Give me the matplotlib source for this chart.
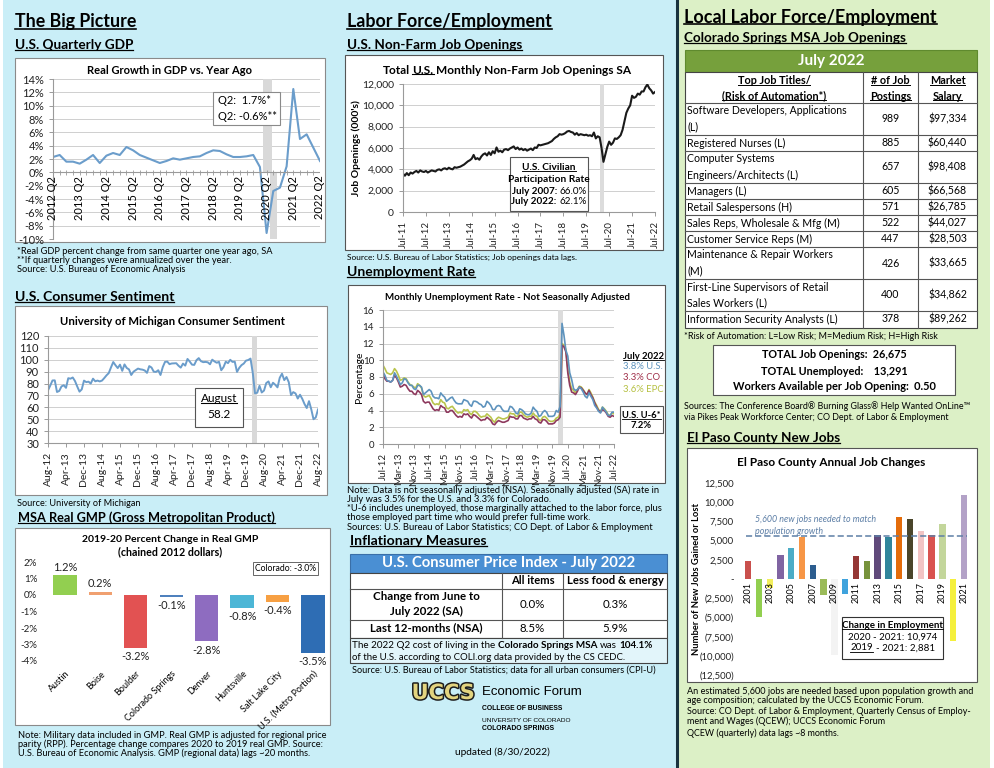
import numpy as np
import matplotlib.pyplot as plt
import matplotlib.patheffects as pe
from matplotlib.patches import Rectangle
from matplotlib.lines import Line2D

plt.rcParams['font.family'] = ['Lato', 'DejaVu Sans']

# ---------------- data ----------------
gdp_ticks = ['2012 Q2', '2013 Q2', '2014 Q2', '2015 Q2', '2016 Q2', '2017 Q2',
             '2018 Q2', '2019 Q2', '2020 Q2', '2021 Q2', '2022 Q2']
gdp = [2.3, 2.6, 1.6,
       1.6, 1.3, 1.9, 2.6,
       1.4, 2.5, 2.9, 2.6,
       3.8, 3.3, 2.6, 2.2,
       1.8, 1.4, 1.7, 2.1,
       1.9, 2.1, 2.3, 2.4,
       2.9, 3.3, 3.2, 2.7,
       2.3, 2.3, 2.4, 2.6,
       0.8, -9.1, -2.8, -2.3,
       0.9, 12.5, 5.0, 5.7,
       3.7, 1.7]

sent_ticks = ['Aug-12', 'Apr-13', 'Dec-13', 'Aug-14', 'Apr-15', 'Dec-15', 'Aug-16', 'Apr-17',
              'Dec-17', 'Aug-18', 'Apr-19', 'Dec-19', 'Aug-20', 'Apr-21', 'Dec-21', 'Aug-22']
sentiment = [74.3, 78.3, 82.6, 82.7, 72.9,
             73.8, 77.6, 78.6, 76.4, 84.5, 84.1, 85.1, 82.1, 77.5, 73.2, 75.1, 82.5,
             81.2, 81.6, 80.0, 84.1, 81.9, 82.5, 81.8, 82.5, 84.6, 86.9, 88.8, 93.6,
             98.1, 95.4, 93.0, 95.9, 90.7, 96.1, 93.1, 91.9, 87.2, 90.0, 91.3, 92.6,
             92.0, 91.7, 91.0, 89.0, 94.7, 93.5, 90.0, 89.8, 91.2, 87.2, 93.8, 98.2,
             98.5, 96.3, 96.9, 97.0, 97.1, 95.0, 93.4, 96.8, 95.1, 100.7, 98.5, 95.9,
             95.7, 99.7, 101.4, 98.8, 98.0, 98.2, 97.9, 96.2, 100.1, 98.6, 97.5, 98.3,
             91.2, 93.8, 98.4, 97.2, 100.0, 98.2, 98.4, 89.8, 93.2, 95.5, 96.8, 99.3,
             99.8, 101.0, 89.1, 71.8, 72.3, 78.1, 72.5, 74.1, 80.4, 81.8, 76.9, 80.7,
             79.0, 76.8, 84.9, 88.3, 82.9, 85.5, 81.2, 70.3, 72.8, 71.7, 67.4, 70.6,
             67.2, 62.8, 59.4, 65.2, 58.4, 50.0, 51.5, 58.2]

gmp_cities = ['Austin', 'Boise', 'Boulder', 'Colorado Springs', 'Denver', 'Huntsville',
              'Salt Lake City', 'U.S. (Metro Portion)']
gmp_change = [1.2, 0.2, -3.2, -0.1, -2.8, -0.8, -0.4, -3.5]
gmp_colors = ['#92cf50', '#f0a070', '#e25252', '#4f81bd', '#8e6cc0', '#4cb6d6', '#f7a043', '#2e6db4']

jobs_ticks = ['Jul-11', 'Jul-12', 'Jul-13', 'Jul-14', 'Jul-15', 'Jul-16', 'Jul-17', 'Jul-18',
              'Jul-19', 'Jul-20', 'Jul-21', 'Jul-22']
job_openings = [3600, 3400, 3650, 3450, 3700, 3600,
                3750, 3850, 3700, 3900, 3800, 3750, 3850, 3700, 3800, 3900, 3850, 3800,
                3950, 4000, 3900, 4050, 4100, 4000, 4150, 4050, 4000, 4200, 4150, 4200,
                4250, 4350, 4450, 4600, 4750, 4850, 5000, 5350, 4950, 5050, 4900, 5200,
                5400, 5500, 5300, 5600, 5350, 5700, 5500, 6050, 5650, 5750, 5600, 5850,
                5900, 5800, 5950, 6050, 6150, 5900, 6050, 5850, 5950, 5800, 5900, 5750,
                5850, 5950, 5800, 6050, 6000, 6300, 6250, 6300, 6350, 6400, 6450, 6550,
                6650, 6850, 7000, 7100, 7300, 7250, 7300, 7400, 7550, 7600, 7500, 7450,
                7250, 7400, 7200, 7300, 7250, 7200, 7250, 7150, 7200, 7100, 7450, 6900,
                7100, 7000, 6000, 4700, 5400, 6100, 6600, 6300, 6500, 6900, 6850, 7000,
                7200, 7700, 8500, 9300, 9700, 10000, 10900, 10700, 10800, 11100, 11000, 11300,
                11300, 11700, 11950, 11600, 11400, 11100, 11250]

unemp_ticks = ['Jul-12', 'Mar-13', 'Nov-13', 'Jul-14', 'Mar-15', 'Nov-15', 'Jul-16', 'Mar-17',
               'Nov-17', 'Jul-18', 'Mar-19', 'Nov-19', 'Jul-20', 'Mar-21', 'Nov-21', 'Jul-22']
unemp_us = [8.6, 8.2, 7.6, 7.5, 7.4, 7.6,
            8.5, 8.1, 7.6, 7.1, 7.3, 7.8, 7.7, 7.3, 7.0, 7.0, 6.6, 6.5,
            7.0, 7.0, 6.8, 5.9, 6.1, 6.3, 6.5, 6.3, 5.7, 5.5, 5.5, 5.4,
            6.1, 5.8, 5.6, 5.1, 5.3, 5.5, 5.6, 5.2, 4.9, 4.8, 4.8, 4.8,
            5.3, 5.2, 5.1, 4.7, 4.5, 5.1, 5.1, 5.0, 4.8, 4.7, 4.4, 4.5,
            5.1, 4.9, 4.6, 4.1, 4.1, 4.5, 4.6, 4.5, 4.1, 3.9, 3.9, 3.9,
            4.5, 4.4, 4.1, 3.7, 3.6, 4.2, 4.1, 3.9, 3.6, 3.5, 3.5, 3.7,
            4.4, 4.1, 3.9, 3.3, 3.4, 3.8, 4.0, 3.8, 3.3, 3.3, 3.3, 3.4,
            4.0, 3.8, 4.5, 14.4, 13.0, 11.2, 10.5, 8.5, 7.7, 6.6, 6.4, 6.5,
            6.8, 6.6, 6.2, 5.7, 5.5, 6.1, 5.7, 5.3, 4.6, 4.3, 3.9, 3.7,
            4.4, 4.1, 3.8, 3.4, 3.4, 3.8, 3.8]
unemp_co = [8.3, 7.8, 7.5, 7.5, 7.4, 7.6,
            8.2, 7.9, 7.4, 6.8, 6.9, 7.1, 7.0, 6.6, 6.3, 6.3, 6.0, 5.9,
            6.4, 6.2, 5.9, 5.1, 4.9, 5.0, 5.0, 4.6, 4.2, 4.0, 4.1, 4.0,
            4.6, 4.4, 4.3, 3.8, 3.8, 4.0, 4.0, 3.7, 3.4, 3.2, 3.3, 3.2,
            3.6, 3.5, 3.6, 3.3, 3.1, 3.5, 3.4, 3.2, 3.0, 2.8, 2.9, 2.9,
            3.2, 3.0, 2.8, 2.4, 2.3, 2.6, 2.8, 2.7, 2.6, 2.6, 2.7, 2.8,
            3.3, 3.2, 3.2, 3.0, 3.0, 3.4, 3.4, 3.1, 3.0, 2.9, 3.0, 3.0,
            3.3, 3.0, 2.9, 2.6, 2.5, 2.9, 2.9, 2.7, 2.4, 2.4, 2.4, 2.5,
            2.8, 2.9, 3.2, 11.8, 11.6, 11.0, 8.5, 7.0, 6.2, 6.1, 5.9, 6.3,
            6.8, 6.7, 6.4, 6.1, 5.9, 6.4, 5.9, 5.5, 4.9, 4.4, 4.0, 3.8,
            4.1, 4.0, 3.7, 3.3, 3.2, 3.4, 3.3]
unemp_epc = [9.4, 9.0, 8.5, 8.4, 8.3, 8.5,
             9.0, 8.7, 8.2, 7.6, 7.7, 7.9, 7.8, 7.4, 7.1, 7.0, 6.8, 6.7,
             7.2, 7.0, 6.7, 5.8, 5.6, 5.7, 5.8, 5.4, 4.9, 4.7, 4.8, 4.7,
             5.3, 5.0, 4.9, 4.3, 4.2, 4.4, 4.5, 4.2, 3.9, 3.7, 3.8, 3.7,
             4.1, 4.0, 4.1, 3.7, 3.5, 3.9, 3.9, 3.7, 3.4, 3.2, 3.3, 3.3,
             3.6, 3.4, 3.2, 2.8, 2.6, 3.0, 3.2, 3.1, 3.0, 3.0, 3.1, 3.2,
             3.7, 3.6, 3.6, 3.3, 3.3, 3.8, 3.8, 3.5, 3.3, 3.2, 3.3, 3.3,
             3.7, 3.4, 3.3, 2.9, 2.8, 3.2, 3.3, 3.1, 2.8, 2.7, 2.7, 2.8,
             3.1, 3.2, 3.6, 12.0, 11.8, 11.3, 9.0, 7.4, 6.6, 6.4, 6.1, 6.5,
             6.9, 6.8, 6.5, 6.1, 5.9, 6.5, 6.1, 5.6, 5.0, 4.6, 4.1, 3.9,
             4.4, 4.2, 3.9, 3.5, 3.4, 3.7, 3.6]

job_titles = ['Software Developers, Applications\n(L)', 'Registered Nurses (L)',
              'Computer Systems\nEngineers/Architects (L)', 'Managers (L)',
              'Retail Salespersons (H)', 'Sales Reps, Wholesale & Mfg (M)',
              'Customer Service Reps (M)', 'Maintenance & Repair Workers\n(M)',
              'First-Line Supervisors of Retail\nSales Workers (L)', 'Information Security Analysts (L)']
job_postings = [989, 885, 657, 605, 571, 522, 447, 426, 400, 378]
job_salary = ['$97,334', '$60,440', '$98,408', '$66,568', '$26,785', '$44,027',
              '$28,503', '$33,665', '$34,862', '$89,262']

ep_years = list(range(2001, 2022))
ep_change = [2300, -4900, -1200, 3100, 4100, 5500, 1800, -2100, -9900, -2000, 3000,
             2400, 5700, 5500, 8100, 7800, 6300, 5700, 7100, -8093, 10974]
ep_colors = ['#c9504d', '#92cf50', '#f2ee5c', '#8064a2', '#4bacc6', '#f79646', '#2c5d8f',
             '#9bbb59', '#f3f3f3', '#3fa3dd', '#953735', '#77933c', '#604a7b', '#31859c',
             '#e46c0a', '#4a452a', '#f2c4c4', '#d9534f', '#c3d69b', '#f5f03c', '#b3a2c7']
ep_yticks = [12500, 10000, 7500, 5000, 2500, 0, -2500, -5000, -7500, -10000, -12500]
ep_ylabels = ['12,500', '10,000', '7,500', '5,000', '2,500', '-', '(2,500)', '(5,000)',
              '(7,500)', '(10,000)', '(12,500)']

# ---------------- helpers ----------------
W, H = 995, 768
fig = plt.figure(figsize=(W / 100, H / 100), dpi=100)
R = fig.canvas.get_renderer()
underlines = []


def rect(x0, y0, x1, y1, fc='white', ec='none', lw=0.8, z=-1):
    fig.add_artist(Rectangle((x0 / W, 1 - y1 / H), (x1 - x0) / W, (y1 - y0) / H,
                             transform=fig.transFigure, facecolor=fc, edgecolor=ec, lw=lw, zorder=z))


def hline(x0, x1, y, color='#555555', lw=0.8, z=2):
    fig.add_artist(Line2D([x0 / W, x1 / W], [1 - y / H] * 2, transform=fig.transFigure,
                          color=color, lw=lw, zorder=z))


def vline(x, y0, y1, color='#555555', lw=0.8, z=2):
    fig.add_artist(Line2D([x / W] * 2, [1 - y0 / H, 1 - y1 / H], transform=fig.transFigure,
                          color=color, lw=lw, zorder=z))


def put(x, y, s, size=8, width=None, ha='left', va='center', weight='normal', color='black',
        ul=False, rotation=0, **kw):
    t = fig.text(x / W, 1 - y / H, s, fontsize=size, ha=ha, va=va, weight=weight,
                 color=color, zorder=4, **kw)
    if width:
        w = t.get_window_extent(R).width
        t.set_fontsize(size * width / w)
    t.set_rotation(rotation)
    if ul:
        underlines.append(t)
    return t


def notes(x, y0, dy, lines, width, size=6.3, **kw):
    # first line sets the size, the rest follow it
    t = put(x, y0, lines[0], size, width=width, **kw)
    fs = t.get_fontsize()
    for k, ln in enumerate(lines[1:], 1):
        put(x, y0 + dy * k, ln, fs, **kw)


def measure(s, size, weight):
    t = fig.text(0, 0, s, fontsize=size, weight=weight)
    w = t.get_window_extent(R).width
    t.remove()
    return w


def runs(x, y, parts, size, ha='left', color='black'):
    placed = []
    cx = 0
    for s, bold, ul in parts:
        wt = 'bold' if bold else 'normal'
        full = measure('x' + s + 'x', size, wt) - measure('xx', size, wt)
        lead = len(s) - len(s.lstrip())
        sp = measure('x x', size, wt) - measure('xx', size, wt)
        t = fig.text(0, 1 - y / H, s.strip(), fontsize=size, weight=wt, va='center',
                     ha='left', color=color, zorder=4)
        placed.append((t, cx + lead * sp, ul))
        cx += full
    start = x if ha == 'left' else x - cx / 2
    for t, off, ul in placed:
        t.set_x((start + off) / W)
        if ul:
            underlines.append(t)


def add_ax(x0, y0, x1, y1):
    ax = fig.add_axes([x0 / W, 1 - y1 / H, (x1 - x0) / W, (y1 - y0) / H])
    ax.set_facecolor('none')
    return ax


def excel(ax, size=7.5):
    for s in ['top', 'right']:
        ax.spines[s].set_visible(False)
    for s in ['left', 'bottom']:
        ax.spines[s].set_color('#9a9a9a')
        ax.spines[s].set_linewidth(0.8)
    ax.grid(axis='y', color='#cfcfcf', lw=0.7)
    ax.set_axisbelow(True)
    ax.tick_params(colors='#9a9a9a', labelcolor='#222222', labelsize=size, length=3, width=0.7)


# ---------------- backgrounds ----------------
rect(0, 0, 995, 768, fc='white', z=-3)
rect(3, 0, 676, 768, fc='#c9eef7', z=-2)
rect(678, 0, 990, 768, fc='#dcf0c6', z=-2)
vline(677, 0, 768, color='#18323e', lw=2.2, z=1)

# ---------------- left column ----------------
put(15, 22, 'The Big Picture', 14, width=122, weight='bold', ul=True)
put(15, 45, 'U.S. Quarterly GDP', 10.5, width=118, weight='bold', ul=True)
rect(15, 58, 325, 242, fc='white', ec='#8a8a8a', lw=0.8)
put(170, 70, 'Real Growth in GDP vs. Year Ago', 9, width=165, weight='bold', ha='center')

ax = add_ax(53, 79, 320, 239)
excel(ax, 8)
x = np.arange(len(gdp))
ax.axvspan(31.4, 32.8, ymin=10 / 24, color='#d9d9d9', lw=0)
ax.axvspan(32.5, 33.6, ymax=10 / 24, color='#d9d9d9', lw=0)
ax.plot(x, gdp, color='#6b9dcb', lw=1.5)
ax.set_xlim(0, len(gdp) - 1)
ax.set_ylim(-10, 14)
ax.set_yticks(range(-10, 15, 2))
ax.set_yticklabels([f'{v}%' for v in range(-10, 15, 2)])
ax.spines['bottom'].set_visible(False)
ax.set_xticks([])
ax.axhline(0, color='#9a9a9a', lw=0.8)
ax.vlines(x, -0.35, 0.35, color='#9a9a9a', lw=0.6)
for i, lab in zip(range(0, len(gdp), 4), gdp_ticks):
    ax.text(i, -0.5, lab, rotation=90, ha='center', va='top', fontsize=8)
rect(213, 92, 280, 125, fc='white', ec='#8a8a8a', z=2)
put(218, 101, 'Q2:  1.7%*', 8)
put(218, 116, 'Q2: -0.6%**', 8)

notes(17, 251, 9.5, ['*Real GDP percent change from same quarter one year ago, SA',
                     '**If quarterly changes were annualized over the year.',
                     'Source: U.S. Bureau of Economic Analysis'], width=256)

put(15, 297, 'U.S. Consumer Sentiment', 10.5, width=160, weight='bold', ul=True)
rect(15, 306, 327, 495, fc='white', ec='#8a8a8a', lw=0.8)
put(172, 322, 'University of Michigan Consumer Sentiment', 9, width=225, weight='bold', ha='center')
ax = add_ax(48, 336, 318, 443)
excel(ax, 8)
xs = np.arange(len(sentiment))
ax.axvspan(90.7, 92.9, color='#d9d9d9', lw=0)
ax.plot(xs, sentiment, color='#6b9dcb', lw=1.4)
ax.set_xlim(0, len(sentiment) - 1)
ax.set_ylim(30, 120)
ax.set_yticks(range(30, 121, 10))
ax.set_xticks(range(0, len(sentiment), 8))
ax.set_xticklabels(sent_ticks, rotation=90, fontsize=7.5)
rect(195, 388, 243, 427, fc='white', ec='#555555', z=2)
put(219, 399, 'August', 8.5, ha='center', ul=True)
put(219, 414, '58.2', 8.5, ha='center')
put(17, 503, 'Source: University of Michigan', 6.3, width=123)

put(18, 518, 'MSA Real GMP (Gross Metropolitan Product)', 10.5, width=257, weight='bold', ul=True)
rect(15, 528, 330, 725, fc='white', ec='#8a8a8a', lw=0.8)
put(170, 539, '2019-20 Percent Change in Real GMP', 8.5, width=176, weight='bold', ha='center')
put(170, 552, '(chained 2012 dollars)', 8.5, width=104, weight='bold', ha='center')
ax = add_ax(40, 562, 329, 661)
xg = np.arange(len(gmp_change))
ax.bar(xg, gmp_change, width=0.66, color=gmp_colors)
ax.set_xlim(-0.7, 7.45)
ax.set_ylim(-4, 2)
for s in ax.spines.values():
    s.set_visible(False)
ax.set_yticks(range(-4, 3))
ax.set_yticklabels([f'{v}%' for v in range(-4, 3)])
ax.tick_params(axis='y', length=0, labelsize=7, labelcolor='#222222', pad=2)
ax.set_xticks(xg)
ax.set_xticklabels(gmp_cities, rotation=45, ha='right', rotation_mode='anchor', fontsize=6.5)
ax.tick_params(axis='x', length=0, pad=6)
for xi, v in zip(xg, gmp_change):
    if v >= 0:
        ax.text(xi, v + 0.15, f'{v:.1f}%', ha='center', va='bottom', fontsize=8, color='#222222')
    else:
        ax.text(xi, v - 0.2, f'{v:.1f}%', ha='center', va='top', fontsize=8, color='#222222')
rect(253, 562, 318, 575, fc='white', ec='#666666', lw=0.7, z=2)
put(285.5, 568.5, 'Colorado: -3.0%', 6.2, ha='center')
notes(18, 735, 9.3, ['Note: Military data included in GMP. Real GMP is adjusted for regional price',
                     'parity (RPP). Percentage change compares 2020 to 2019 real GMP. Source:',
                     'U.S. Bureau of Economic Analysis. GMP (regional data) lags ~20 months.'], width=309)

# ---------------- middle column ----------------
put(347, 22, 'Labor Force/Employment', 14, width=206, weight='bold', ul=True)
put(347, 45, 'U.S. Non-Farm Job Openings', 10.5, width=175, weight='bold', ul=True)
rect(345, 55, 663, 250, fc='white', ec='#555555', lw=0.8)
runs(507, 70, [('Total ', True, False), ('U.S.', True, True),
               (' Monthly Non-Farm Job Openings SA', True, False)], 8.6, ha='center')
ax = add_ax(403, 84, 655, 212)
excel(ax, 7.5)
xj = np.arange(len(job_openings))
ax.axvspan(103.2, 105.3, color='#dcdcdc', lw=0)
ax.plot(xj, job_openings, color='#1a1a1a', lw=1.5)
ax.set_xlim(0, len(job_openings) - 1)
ax.set_ylim(0, 12000)
ax.set_yticks(range(0, 12001, 2000))
ax.set_yticklabels([f'{v:,}' for v in range(0, 12001, 2000)])
ax.set_xticks(range(0, len(job_openings), 12))
ax.set_xticklabels(jobs_ticks, rotation=90, fontsize=7)
put(356, 148, "Job Openings (000's)", 7.5, weight='bold', ha='center', rotation=90)
rect(510, 157, 588, 211, fc='white', ec='#555555', z=2)
put(549, 167, 'U.S. Civilian', 7.3, weight='bold', ha='center', ul=True)
put(549, 179, 'Participation Rate', 7.3, weight='bold', ha='center')
runs(549, 191, [('July 2007:', True, False), (' 66.0%', False, False)], 7.1, ha='center')
runs(549, 202, [('July 2022:', True, False), (' 62.1%', False, False)], 7.1, ha='center')
put(347, 257, 'Source: U.S. Bureau of Labor Statistics; Job openings data lags.', 6.3, width=230)

put(347, 272, 'Unemployment Rate', 10.5, width=128, weight='bold', ul=True)
rect(348, 285, 665, 483, fc='white', ec='#555555', lw=0.8)
put(508, 298, 'Monthly Unemployment Rate - Not Seasonally Adjusted', 8, width=247, weight='bold', ha='center')
ax = add_ax(383, 310, 614, 444)
excel(ax, 7)
xu = np.arange(len(unemp_us))
ax.axvspan(91, 93.5, color='#dcdcdc', lw=0)
ax.plot(xu, unemp_epc, color='#b9c44c', lw=1.2)
ax.plot(xu, unemp_co, color='#8e3a5e', lw=1.2)
ax.plot(xu, unemp_us, color='#5e93bd', lw=1.2)
ax.set_xlim(0, len(unemp_us) - 1)
ax.set_ylim(0, 16)
ax.set_yticks(range(0, 17, 2))
ax.set_xticks(range(0, len(unemp_us), 8))
ax.set_xticklabels(unemp_ticks, rotation=90, fontsize=7)
put(360, 377, 'Percentage', 7.5, ha='center', rotation=90)
put(623, 356, 'July 2022', 6.8, weight='bold', ul=True)
put(623, 367, '3.8% U.S.', 6.8, color='#5e93bd')
put(623, 378, '3.3% CO', 6.8, color='#a0304a')
put(623, 390, '3.6% EPC', 6.8, color='#b5c040')
rect(620, 406, 663, 433, fc='white', ec='#555555', z=2)
put(641.5, 415, 'U.S. U-6*', 6.8, weight='bold', ha='center', ul=True)
put(641.5, 426, '7.2%', 6.8, weight='bold', ha='center')
notes(347, 490, 9.3, ['Note: Data is not seasonally adjusted (NSA). Seasonally adjusted (SA) rate in',
                      'July was 3.5% for the U.S. and 3.3% for Colorado.',
                      '*U-6 includes unemployed, those marginally attached to the labor force, plus',
                      'those employed part time who would prefer full-time work.',
                      'Sources: U.S. Bureau of Labor Statistics; CO Dept. of Labor & Employment'], width=310)

put(350, 541, 'Inflationary Measures', 10.5, width=137, weight='bold', ul=True)
rect(350, 554, 667, 573, fc='#4a8fd3', ec='#3a6fa8', lw=0.8)
put(508.5, 563.5, 'U.S. Consumer Price Index - July 2022', 11, width=252, weight='bold',
    ha='center', color='white')
rect(350, 573, 667, 638, fc='white', ec='#444444', lw=0.8)
rect(350, 638, 667, 663, fc='#e2f5fa', ec='#444444', lw=0.8)
hline(350, 667, 589)
hline(350, 667, 620)
vline(502, 573, 638)
vline(563, 573, 638)
put(532.5, 581, 'All items', 8, weight='bold', ha='center')
put(615, 581, 'Less food & energy', 8, width=98, weight='bold', ha='center')
put(426, 597, 'Change from June to', 8.3, weight='bold', ha='center')
put(426, 611, 'July 2022 (SA)', 8.3, weight='bold', ha='center')
put(426, 628, 'Last 12-months (NSA)', 8.3, weight='bold', ha='center')
put(532.5, 604.5, '0.0%', 8.3, ha='center')
put(615, 604.5, '0.3%', 8.3, ha='center')
put(532.5, 628, '8.5%', 8.3, ha='center')
put(615, 628, '5.9%', 8.3, ha='center')
runs(352, 645, [('The 2022 Q2 cost of living in the ', False, False), ('Colorado Springs MSA', True, False),
                (' was ', False, False), ('104.1%', True, False)], 7.1)
put(352, 657, 'of the U.S. according to COLI.org data provided by the CS CEDC.', 7.1, width=275)
put(352, 670, 'Source: U.S. Bureau of Labor Statistics; data for all urban consumers (CPI-U)', 6.3, width=303)

put(443, 693, 'UCCS', 15, width=63, weight='heavy', ha='center', color='#e3d47f', family='DejaVu Sans',
    path_effects=[pe.withStroke(linewidth=2.2, foreground='#1e1e1e')])
put(482, 692, 'Economic Forum', 12, width=101, family='Liberation Sans')
put(482, 709, 'COLLEGE OF BUSINESS', 5, width=81, weight='bold', family='Liberation Sans')
put(482, 721, 'UNIVERSITY OF COLORADO', 5, width=90, family='Liberation Sans')
put(482, 729, 'COLORADO SPRINGS', 5, width=72, weight='bold', family='Liberation Sans')
put(502, 752, 'updated (8/30/2022)', 7.5, width=95, ha='center')

# ---------------- right column ----------------
put(684, 17, 'Local Labor Force/Employment', 14, width=254, weight='bold', ul=True)
put(684, 38, 'Colorado Springs MSA Job Openings', 10.5, width=221, weight='bold', ul=True)
rect(685, 50, 977, 72, fc='#76a03c', ec='#5f8a2e', lw=0.8)
put(831, 61, 'July 2022', 11, weight='bold', ha='center', color='white')
rect(685, 72, 977, 328, fc='white', ec='#444444', lw=0.8)
vline(863, 72, 328)
vline(918, 72, 328)
hline(685, 977, 103)
put(774, 81, 'Top Job Titles/', 7.8, weight='bold', ha='center', ul=True)
put(774, 96, '(Risk of Automation*)', 7.8, weight='bold', ha='center', ul=True)
put(890.5, 81, '# of Job', 7.8, weight='bold', ha='center', ul=True)
put(890.5, 96, 'Postings', 7.8, weight='bold', ha='center', ul=True)
put(947.5, 81, 'Market', 7.8, weight='bold', ha='center', ul=True)
put(947.5, 96, 'Salary', 7.8, weight='bold', ha='center', ul=True)
top = 103
for title, n, sal in zip(job_titles, job_postings, job_salary):
    lines = title.split('\n')
    h = 16 * len(lines)
    for k, ln in enumerate(lines):
        put(687, top + 8 + 16 * k, ln, 7.6)
    put(890.5, top + h / 2, str(n), 7.6, ha='center')
    put(947.5, top + h / 2, sal, 7.6, ha='center')
    top += h
    if top < 327:
        hline(685, 977, top)
put(684, 337, '*Risk of Automation: L=Low Risk; M=Medium Risk; H=High Risk', 6.2, width=254)
rect(713, 345, 955, 395, fc='white', ec='#555555', lw=0.8)
put(834, 355, 'TOTAL Job Openings:  26,675', 8, width=145, weight='bold', ha='center')
put(834, 371, 'TOTAL Unemployed:    13,291', 8, width=148, weight='bold', ha='center')
put(834, 387, 'Workers Available per Job Opening:  0.50', 8, width=205, weight='bold', ha='center')
notes(684, 406, 12, ['Sources: The Conference Board\u00ae Burning Glass\u00ae Help Wanted OnLine\u2122',
                     'via Pikes Peak Workforce Center; CO Dept. of Labor & Employment'], width=288)

put(687, 438, 'El Paso County New Jobs', 10.5, width=153, weight='bold', ul=True)
rect(687, 448, 977, 682, fc='white', ec='#555555', lw=0.8)
put(831, 462, 'El Paso County Annual Job Changes', 8.6, width=187, weight='bold', ha='center')
ax = add_ax(738, 483, 972, 675)
xe = np.arange(len(ep_change))
ax.bar(xe, ep_change, width=0.58, color=ep_colors)
ax.hlines(5600, -0.2, len(ep_change) - 0.7, colors='#5d7fa6', linestyles=(0, (4, 2)), lw=1.1)
ax.set_xlim(-0.93, len(ep_change) - 0.26)
ax.set_ylim(-12500, 12500)
for s in ax.spines.values():
    s.set_visible(False)
ax.set_xticks([])
ax.set_yticks(ep_yticks)
ax.set_yticklabels(ep_ylabels)
ax.tick_params(length=0, labelsize=6.8, labelcolor='#222222', pad=3)
for i, yr in enumerate(ep_years):
    if yr % 2 == 1:
        ax.text(i, -350, str(yr), rotation=90, ha='center', va='top', fontsize=6.5)
notes(755, 520, 11, ['5,600 new jobs needed to match', 'population growth'], width=121,
      size=6.8, style='italic', color='#5d7fa6')
put(697, 579, 'Number of New Jobs Gained or Lost', 8, width=152, weight='bold', ha='center', rotation=90)
rect(842, 617, 943, 659, fc='white', ec='#333333', lw=0.8, z=2)
put(892.5, 625, 'Change in Employment', 7, weight='bold', ha='center', ul=True)
put(892.5, 637, '2020 - 2021: 10,974', 7, ha='center')
runs(892.5, 648, [('2019', False, True), (' - 2021: 2,881', False, False)], 7, ha='center')
notes(687, 691, 9.3, ['An estimated 5,600 jobs are needed based upon population growth and',
                      'age composition; calculated by the UCCS Economic Forum.'], width=288)
notes(687, 712, 9.3, ['Source: CO Dept. of Labor & Employment, Quarterly Census of Employ-',
                      'ment and Wages (QCEW); UCCS Economic Forum'], width=285)
put(687, 733, 'QCEW (quarterly) data lags ~8 months.', 6.4)

# ---------------- underlines ----------------
for t in underlines:
    bb = t.get_window_extent(R)
    yy = bb.y0 + bb.height * 0.1
    fig.add_artist(Line2D([bb.x0 / W, bb.x1 / W], [yy / H, yy / H], transform=fig.transFigure,
                          color=t.get_color(), lw=max(0.6, t.get_fontsize() / 11), zorder=4))

fig.savefig('out.png', dpi=100)
